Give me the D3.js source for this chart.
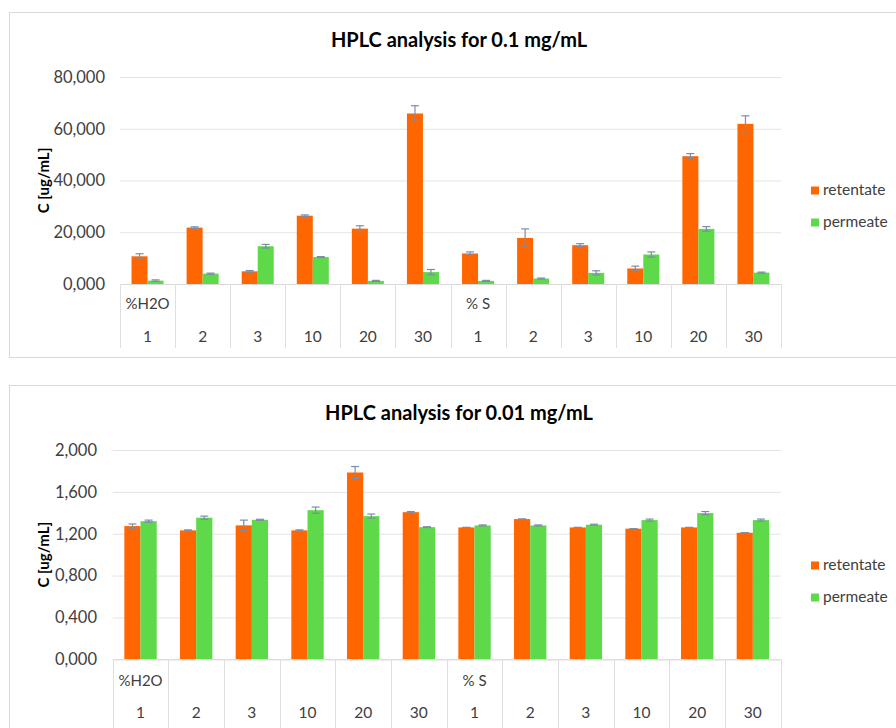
<!DOCTYPE html>
<html>
<head>
<meta charset="utf-8">
<script src="https://d3js.org/d3.v7.min.js"></script>
<style>
body { margin: 0; background: #fff; }
svg { display: block; font-family: Lato, "Open Sans", sans-serif; }
</style>
</head>
<body>
<div id="chart"></div>
<script>
var groups = ["%H2O", "% S"];
var levels = ["1", "2", "3", "10", "20", "30"];
var seriesNames = ["retentate", "permeate"];

var retentate01 = [10.7, 21.8, 4.9, 26.4, 21.4, 65.9, 11.8, 17.8, 15.0, 6.0, 49.4, 61.9];
var retentate01Err = [1.0, 0.3, 0.3, 0.3, 1.1, 3.0, 0.6, 3.5, 0.6, 0.9, 1.0, 3.1];
var permeate01 = [1.3, 4.0, 14.6, 10.4, 1.2, 4.6, 1.2, 2.1, 4.3, 11.4, 21.3, 4.4];
var permeate01Err = [0.3, 0.2, 0.7, 0.2, 0.2, 1.0, 0.2, 0.2, 0.8, 1.0, 0.9, 0.2];
var ticks01 = [0, 20, 40, 60, 80];

var retentate001 = [1.273, 1.232, 1.28, 1.232, 1.785, 1.406, 1.26, 1.34, 1.26, 1.248, 1.26, 1.209];
var retentate001Err = [0.02, 0.005, 0.05, 0.005, 0.057, 0.006, 0, 0, 0, 0, 0, 0];
var permeate001 = [1.32, 1.353, 1.333, 1.425, 1.368, 1.263, 1.279, 1.279, 1.286, 1.33, 1.397, 1.33];
var permeate001Err = [0.01, 0.015, 0.005, 0.03, 0.02, 0.004, 0.005, 0.005, 0.005, 0.01, 0.015, 0.01];
var ticks001 = [0, 0.4, 0.8, 1.2, 1.6, 2.0];

var colors = ["#ff6600", "#5ed94a"];

var locale = d3.formatLocale({decimal: ",", thousands: ".", grouping: [3], currency: ["", ""]});
var fmt = locale.format(".3f");

var svg = d3.select("#chart")
.append("svg")
.attr("width", 896)
.attr("height", 728);

function drawChart(opt) {
	var g = svg.append("g");

	g.append("rect")
	.attr("x", 9.5).attr("y", opt.top + 0.5)
	.attr("width", 900).attr("height", opt.panelH)
	.attr("fill", "#fff").attr("stroke", "#d9d9d9");

	g.append("text")
	.attr("x", 459).attr("y", opt.titleY)
	.attr("text-anchor", "middle")
	.attr("dominant-baseline", "middle")
	.attr("font-size", 20).attr("font-weight", "bold")
	.attr("fill", "#000")
	.text(opt.title);

	// categories: group + level, 12 cells
	var cats = [];
	groups.forEach(function(gr, gi){
		levels.forEach(function(l, li){
			cats.push({group: gr, level: l, first: li === 0, key: gi + "-" + l});
		});
	});

	var x = d3.scaleBand().domain(cats.map(function(d){ return d.key; }))
	.range([opt.x0, opt.x1]).padding(0);
	var xs = d3.scaleBand().domain(seriesNames).range([0, x.bandwidth()])
	.paddingInner(0).paddingOuter(0.72);
	var y = d3.scaleLinear().domain([0, d3.max(opt.ticks)]).range([opt.y0, opt.y1]);

	var grid = g.append("g")
	.attr("transform", "translate(" + opt.x0 + ",0)")
	.call(d3.axisLeft(y).tickValues(opt.ticks).tickSize(-(opt.x1 - opt.x0)).tickFormat(fmt));
	grid.select(".domain").remove();
	grid.selectAll(".tick line").attr("stroke", "#e3e3e3");
	grid.selectAll(".tick text")
	.attr("x", opt.labelX - opt.x0)
	.attr("font-size", 16.5)
	.attr("font-family", "Lato, sans-serif")
	.attr("fill", "#404040");

	g.append("text")
	.attr("transform", "translate(45," + ((opt.y0 + opt.y1) / 2) + ") rotate(-90)")
	.attr("text-anchor", "middle")
	.attr("dominant-baseline", "middle")
	.attr("font-size", 15).attr("font-weight", "bold")
	.attr("fill", "#000")
	.text("C [ug/mL]");

	var data = cats.map(function(c, i){
		return {key: c.key, vals: [
			{s: seriesNames[0], v: opt.ret[i], e: opt.retErr[i]},
			{s: seriesNames[1], v: opt.per[i], e: opt.perErr[i]}
		]};
	});

	var catG = g.selectAll(".cat")
	.data(data)
	.enter().append("g")
	.attr("class", "cat")
	.attr("transform", function(d){ return "translate(" + x(d.key) + ",0)"; });

	catG.selectAll("rect")
	.data(function(d){ return d.vals; })
	.enter().append("rect")
	.attr("x", function(d){ return xs(d.s); })
	.attr("width", xs.bandwidth())
	.attr("y", function(d){ return y(d.v); })
	.attr("height", function(d){ return y(0) - y(d.v); })
	.attr("fill", function(d, i){ return colors[i]; });

	var err = catG.selectAll(".err")
	.data(function(d){ return d.vals; })
	.enter().append("g")
	.attr("class", "err")
	.attr("stroke", "#7d8ca8")
	.attr("stroke-width", 1.2);
	err.append("line")
	.attr("x1", function(d){ return xs(d.s) + xs.bandwidth() / 2; })
	.attr("x2", function(d){ return xs(d.s) + xs.bandwidth() / 2; })
	.attr("y1", function(d){ return y(d.v + d.e); })
	.attr("y2", function(d){ return y(d.v - d.e); });
	[1, -1].forEach(function(sg){
		err.append("line")
		.attr("x1", function(d){ return xs(d.s) + xs.bandwidth() / 2 - 4; })
		.attr("x2", function(d){ return xs(d.s) + xs.bandwidth() / 2 + 4; })
		.attr("y1", function(d){ return y(d.v + sg * d.e); })
		.attr("y2", function(d){ return y(d.v + sg * d.e); });
	});

	// baseline and category table
	g.append("line")
	.attr("x1", opt.x0).attr("x2", opt.x1)
	.attr("y1", y(0) + 0.5).attr("y2", y(0) + 0.5)
	.attr("stroke", "#d9d9d9");

	var bounds = x.domain().map(function(k){ return x(k); }).concat([opt.x1]);
	g.selectAll(".sep")
	.data(bounds)
	.enter().append("line")
	.attr("class", "sep")
	.attr("x1", function(d){ return Math.round(d) + 0.5; })
	.attr("x2", function(d){ return Math.round(d) + 0.5; })
	.attr("y1", y(0)).attr("y2", opt.tableBottom)
	.attr("stroke", "#e0e0e0");

	g.selectAll(".grp")
	.data(cats.filter(function(c){ return c.first; }))
	.enter().append("text")
	.attr("class", "grp")
	.attr("x", function(d){ return x(d.key) + x.bandwidth() / 2; })
	.attr("y", opt.row1Y)
	.attr("text-anchor", "middle")
	.attr("dominant-baseline", "middle")
	.attr("font-size", 15).attr("fill", "#404040")
	.text(function(d){ return d.group; });

	g.selectAll(".lvl")
	.data(cats)
	.enter().append("text")
	.attr("class", "lvl")
	.attr("x", function(d){ return x(d.key) + x.bandwidth() / 2; })
	.attr("y", opt.row2Y)
	.attr("text-anchor", "middle")
	.attr("dominant-baseline", "middle")
	.attr("font-size", 15.5).attr("fill", "#404040")
	.text(function(d){ return d.level; });

	var leg = g.selectAll(".leg")
	.data(seriesNames)
	.enter().append("g")
	.attr("class", "leg")
	.attr("transform", function(d, i){ return "translate(811," + (opt.legendY + i * 32) + ")"; });
	leg.append("rect")
	.attr("x", 0).attr("y", -4.5)
	.attr("width", 8).attr("height", 8)
	.attr("fill", function(d, i){ return colors[i]; });
	leg.append("text")
	.attr("x", 12).attr("y", 0)
	.attr("dominant-baseline", "middle")
	.attr("font-size", 15.5).attr("fill", "#404040")
	.text(function(d){ return d; });
}

drawChart({
	top: 12, panelH: 345, titleY: 42,
	title: "HPLC analysis for 0.1 mg/mL",
	x0: 120, x1: 781, y0: 284, y1: 77, labelX: 105,
	ticks: ticks01,
	ret: retentate01, retErr: retentate01Err, per: permeate01, perErr: permeate01Err,
	tableBottom: 348, row1Y: 305, row2Y: 338, legendY: 191
});

drawChart({
	top: 385, panelH: 400, titleY: 415,
	title: "HPLC analysis for 0.01 mg/mL",
	x0: 112.7, x1: 780.7, y0: 659.3, y1: 450, labelX: 97,
	ticks: ticks001,
	ret: retentate001, retErr: retentate001Err, per: permeate001, perErr: permeate001Err,
	tableBottom: 728, row1Y: 682, row2Y: 714, legendY: 566
});
</script>
</body>
</html>
